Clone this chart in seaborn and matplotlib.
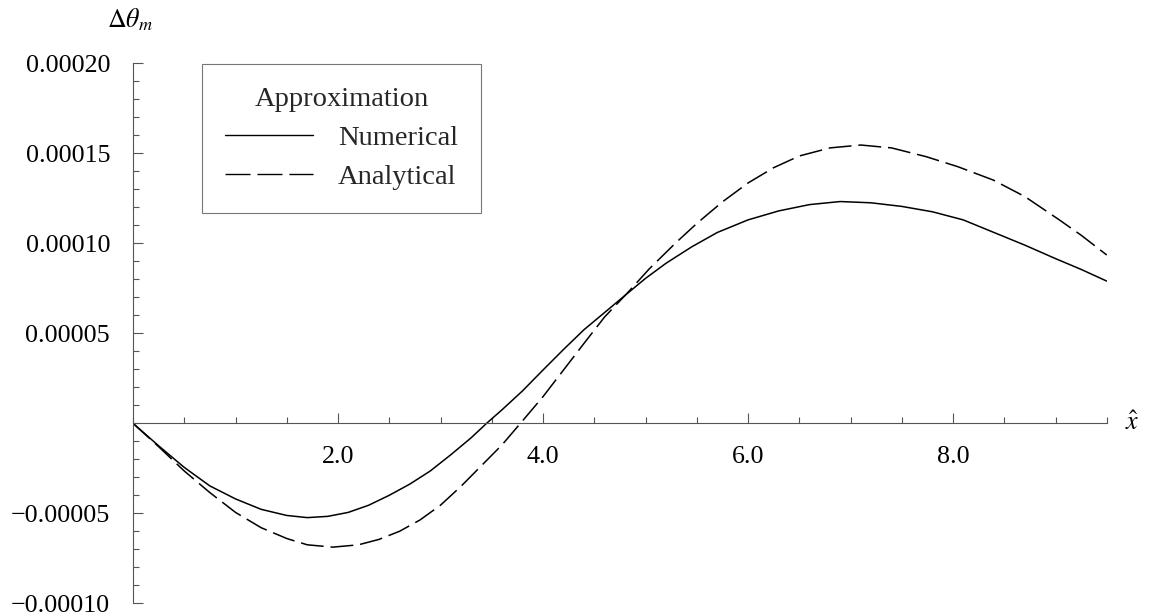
import matplotlib
matplotlib.use("Agg")
import matplotlib.pyplot as plt
from matplotlib.ticker import FixedLocator, MultipleLocator
import pandas as pd
import seaborn as sns

# Temperature-deviation profiles along the normalised coordinate x-hat
x_numerical = [0.0, 0.25, 0.5, 0.75, 1.0, 1.25, 1.5, 1.7, 1.9, 2.1, 2.3, 2.5, 2.7,
               2.9, 3.1, 3.3, 3.45, 3.6, 3.8, 4.0, 4.2, 4.4, 4.6, 4.82, 5.0, 5.2,
               5.45, 5.7, 6.0, 6.3, 6.6, 6.9, 7.2, 7.5, 7.8, 8.1, 8.4, 8.7, 9.0,
               9.25, 9.5]
theta_numerical = [0.0, -1.25e-5, -2.45e-5, -3.48e-5, -4.20e-5, -4.78e-5, -5.12e-5,
                   -5.24e-5, -5.17e-5, -4.95e-5, -4.55e-5, -4.00e-5, -3.38e-5,
                   -2.65e-5, -1.75e-5, -0.80e-5, 0.0, 0.75e-5, 1.80e-5, 2.96e-5,
                   4.10e-5, 5.20e-5, 6.15e-5, 7.20e-5, 8.05e-5, 8.89e-5, 9.80e-5,
                   10.60e-5, 11.30e-5, 11.80e-5, 12.15e-5, 12.32e-5, 12.25e-5,
                   12.05e-5, 11.75e-5, 11.30e-5, 10.60e-5, 9.90e-5, 9.15e-5,
                   8.55e-5, 7.90e-5]

x_analytical = [0.0, 0.25, 0.5, 0.75, 1.0, 1.25, 1.5, 1.7, 1.95, 2.2, 2.4, 2.6, 2.8,
                3.0, 3.2, 3.4, 3.6, 3.78, 4.0, 4.2, 4.4, 4.6, 4.82, 5.04, 5.3, 5.5,
                5.75, 6.0, 6.25, 6.5, 6.8, 7.1, 7.4, 7.74, 8.05, 8.39, 8.7, 9.04,
                9.25, 9.5]
theta_analytical = [0.0, -1.30e-5, -2.65e-5, -3.85e-5, -4.95e-5, -5.80e-5, -6.40e-5,
                    -6.75e-5, -6.88e-5, -6.75e-5, -6.45e-5, -6.00e-5, -5.37e-5,
                    -4.55e-5, -3.50e-5, -2.35e-5, -1.20e-5, 0.0, 1.48e-5, 2.96e-5,
                    4.44e-5, 5.90e-5, 7.22e-5, 8.60e-5, 10.05e-5, 11.10e-5, 12.30e-5,
                    13.35e-5, 14.20e-5, 14.85e-5, 15.30e-5, 15.46e-5, 15.30e-5,
                    14.81e-5, 14.25e-5, 13.52e-5, 12.60e-5, 11.29e-5, 10.45e-5,
                    9.35e-5]

series_names = ["Numerical", "Analytical"]

y_tick_values = [-0.0001, -0.00005, 0.00005, 0.0001, 0.00015, 0.0002]
y_tick_labels = ["\u22120.00010", "\u22120.00005", "0.00005", "0.00010", "0.00015", "0.00020"]
x_tick_values = [2.0, 4.0, 6.0, 8.0]
x_tick_labels = ["2.0", "4.0", "6.0", "8.0"]

df = pd.concat([
    pd.DataFrame({"x": x_numerical, "theta": theta_numerical, "Approximation": series_names[0]}),
    pd.DataFrame({"x": x_analytical, "theta": theta_analytical, "Approximation": series_names[1]}),
], ignore_index=True)

sns.set_theme(style="white")
plt.rcParams["font.family"] = ["Liberation Serif", "DejaVu Serif"]
plt.rcParams["mathtext.fontset"] = "stix"

axis_grey = "#555555"
tick_fs = 18.7
legend_fs = 20.5

fig = plt.figure(figsize=(11.51, 6.16), dpi=100)
ax = fig.add_axes([133 / 1151, 1 - 603.3 / 616, (1106.75 - 133) / 1151, 540 / 616])

sns.lineplot(data=df, x="x", y="theta", style="Approximation",
             dashes={"Numerical": "", "Analytical": (15, 4.5)},
             color="black", linewidth=1.1, ax=ax, sort=False)

ax.set_xlim(0, 9.5)
ax.set_ylim(-0.0001, 0.0002)

for s in ("top", "right"):
    ax.spines[s].set_visible(False)
ax.spines["bottom"].set_position(("data", 0))
for s in ("left", "bottom"):
    ax.spines[s].set_color(axis_grey)
    ax.spines[s].set_linewidth(0.8)

ax.xaxis.set_major_locator(FixedLocator(x_tick_values))
ax.set_xticklabels(x_tick_labels)
ax.xaxis.set_minor_locator(MultipleLocator(0.5))
ax.yaxis.set_major_locator(FixedLocator(y_tick_values))
ax.set_yticklabels(y_tick_labels)
ax.yaxis.set_minor_locator(MultipleLocator(0.00001))

ax.tick_params(axis="both", which="both", direction="in", color=axis_grey,
               width=0.8, labelsize=tick_fs, labelcolor="black")
ax.tick_params(axis="both", which="major", length=7)
ax.tick_params(axis="both", which="minor", length=4.3)
ax.tick_params(axis="x", which="major", pad=16)
ax.tick_params(axis="y", which="major", pad=16.5)
ax.tick_params(bottom=True, left=True, which="both")

ax.set_xlabel("")
ax.set_ylabel("")

ax.text(-0.003, 1.08, r"$\Delta\theta_m$", transform=ax.transAxes, ha="center",
        va="center", fontsize=tick_fs, color="black")
ax.text(9.68, 0, r"$\hat{x}$", ha="left", va="center", fontsize=tick_fs,
        color="black", clip_on=False)

handles, labels = ax.get_legend_handles_labels()
leg = ax.legend(handles, labels, title="Approximation", loc="upper left",
                bbox_to_anchor=(202 / 1151, 1 - 64 / 616), bbox_transform=fig.transFigure,
                borderaxespad=0, fontsize=legend_fs, title_fontsize=legend_fs, frameon=True,
                fancybox=False, edgecolor=axis_grey, handlelength=3.1,
                handletextpad=0.88, borderpad=0.8, labelspacing=0.46, alignment="center")
leg.get_frame().set_linewidth(0.8)
leg_lines = leg.get_lines()
for line in leg_lines:
    line.set_linewidth(1.0)
leg_lines[1].set_dashes((18, 5))

fig.savefig("out.png", dpi=100, facecolor="white")
